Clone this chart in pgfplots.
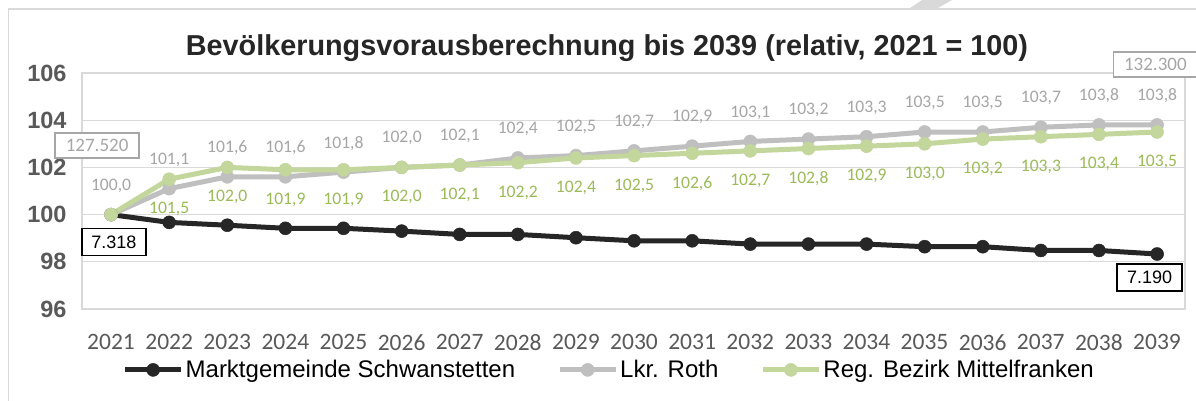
\documentclass[border=0pt]{standalone}
\usepackage{fontspec}
\setmainfont{Liberation Sans}
\newfontfamily\carlito{Carlito}
\usepackage{pgfplots}
\usepackage{pgfplotstable}
\pgfplotsset{compat=1.18}

\definecolor{cblack}{HTML}{262626}
\definecolor{cgray}{HTML}{BFBFBF}
\definecolor{cgreen}{HTML}{C3D69B}
\definecolor{lgray}{HTML}{A6A6A6}
\definecolor{lgreen}{HTML}{9BBB59}
\definecolor{tickc}{HTML}{595959}
\definecolor{framec}{HTML}{D9D9D9}

% Marktgemeinde Schwanstetten
\pgfplotstableread{
year val
2021 100.00
2022 99.67
2023 99.55
2024 99.42
2025 99.42
2026 99.30
2027 99.16
2028 99.16
2029 99.02
2030 98.89
2031 98.89
2032 98.75
2033 98.75
2034 98.75
2035 98.64
2036 98.64
2037 98.48
2038 98.48
2039 98.33
}\schwan

% Lkr. Roth
\pgfplotstableread{
year val lab
2021 100.0 100,0
2022 101.1 101,1
2023 101.6 101,6
2024 101.6 101,6
2025 101.8 101,8
2026 102.0 102,0
2027 102.1 102,1
2028 102.4 102,4
2029 102.5 102,5
2030 102.7 102,7
2031 102.9 102,9
2032 103.1 103,1
2033 103.2 103,2
2034 103.3 103,3
2035 103.5 103,5
2036 103.5 103,5
2037 103.7 103,7
2038 103.8 103,8
2039 103.8 103,8
}\roth

% Reg. Bezirk Mittelfranken
\pgfplotstableread{
year val lab
2021 100.0 {}
2022 101.5 101,5
2023 102.0 102,0
2024 101.9 101,9
2025 101.9 101,9
2026 102.0 102,0
2027 102.1 102,1
2028 102.2 102,2
2029 102.4 102,4
2030 102.5 102,5
2031 102.6 102,6
2032 102.7 102,7
2033 102.8 102,8
2034 102.9 102,9
2035 103.0 103,0
2036 103.2 103,2
2037 103.3 103,3
2038 103.4 103,4
2039 103.5 103,5
}\mfr

\begin{document}
\begin{tikzpicture}[x=1pt,y=1pt]
\useasboundingbox (0,0) rectangle (1196,400);
\fill[white] (0,0) rectangle (1196,400);
\draw[framec, line width=1.5pt] (8.5,-5) -- (8.5,391) -- (1205,391);
\fill[framec] (910,392) -- (938,392) -- (952,400) -- (922,400) -- cycle;

\node[font=\bfseries\fontsize{28.8}{30}\selectfont, text=cblack] at (607,352)
  {Bevölkerungsvorausberechnung bis 2039 (relativ, 2021 = 100)};

\begin{axis}[
  at={(82pt,91pt)}, anchor=south west,
  width=1103pt, height=236pt, scale only axis,
  xmin=2020.5, xmax=2039.48, ymin=96, ymax=106,
  xtick={2021,...,2039}, ytick={96,98,...,106},
  ymajorgrids, major grid style={framec, line width=1.2pt},
  axis line style={framec, line width=1.2pt},
  tick style={draw=none},
  clip=false,
  /pgf/number format/1000 sep={},
  /pgf/number format/assume math mode=true,
  xticklabel style={font=\carlito\fontsize{23.5}{24}\selectfont, text=tickc, yshift=-22pt},
  yticklabel style={font=\bfseries\fontsize{23.5}{24}\selectfont, text=tickc, xshift=-12pt},
  legend columns=3,
  legend style={at={(0.478,-0.258)}, anchor=center, draw=none, fill=none,
    font=\fontsize{24}{26}\selectfont, inner sep=0pt,
    /tikz/every even column/.append style={column sep=40pt}},
  legend image code/.code={\draw[mark repeat=2, mark phase=2, #1]
    plot coordinates {(0pt,0pt) (28pt,0pt) (56pt,0pt)};},
]
\addplot[cblack, line width=5pt, mark=*, mark size=6.5pt,
  mark options={solid, line width=0.5pt}] table[x=year, y=val]{\schwan};
\addlegendentry{Marktgemeinde Schwanstetten}

\addplot[cgray, line width=5pt, mark=*, mark size=6.5pt,
  mark options={solid, line width=0.5pt},
  point meta=explicit symbolic, nodes near coords,
  every node near coord/.append style={font=\carlito\fontsize{17.6}{18}\selectfont,
    text=lgray, anchor=center, yshift=29pt}]
  table[x=year, y=val, meta=lab]{\roth};
\addlegendentry{Lkr. Roth}

\addplot[cgreen, line width=5pt, mark=*, mark size=6.5pt,
  mark options={solid, line width=0.5pt},
  point meta=explicit symbolic, nodes near coords,
  every node near coord/.append style={font=\carlito\fontsize{17.6}{18}\selectfont,
    text=lgreen, anchor=center, yshift=-30pt}]
  table[x=year, y=val, meta=lab]{\mfr};
\addlegendentry{Reg. Bezirk Mittelfranken}

% value boxes
\node[draw=lgray, line width=1.5pt, fill=white, text=lgray, inner sep=0pt,
  minimum width=84pt, minimum height=25pt,
  font=\carlito\fontsize{19}{20}\selectfont] at (axis cs:2020.76,102.93) {127.520};
\node[draw=lgray, line width=1.5pt, fill=white, text=lgray, inner sep=0pt,
  minimum width=84pt, minimum height=25pt,
  font=\carlito\fontsize{19}{20}\selectfont] at (axis cs:2038.97,106.36) {132.300};
\node[draw=black, line width=1.5pt, fill=white, text=black, inner sep=0pt,
  minimum width=64pt, minimum height=27pt,
  font=\fontsize{18}{20}\selectfont] at (axis cs:2021.05,98.84) {7.318};
\node[draw=black, line width=1.5pt, fill=white, text=black, inner sep=0pt,
  minimum width=65pt, minimum height=27pt,
  font=\fontsize{18}{20}\selectfont] at (axis cs:2038.87,97.33) {7.190};
\end{axis}
\end{tikzpicture}
\end{document}
